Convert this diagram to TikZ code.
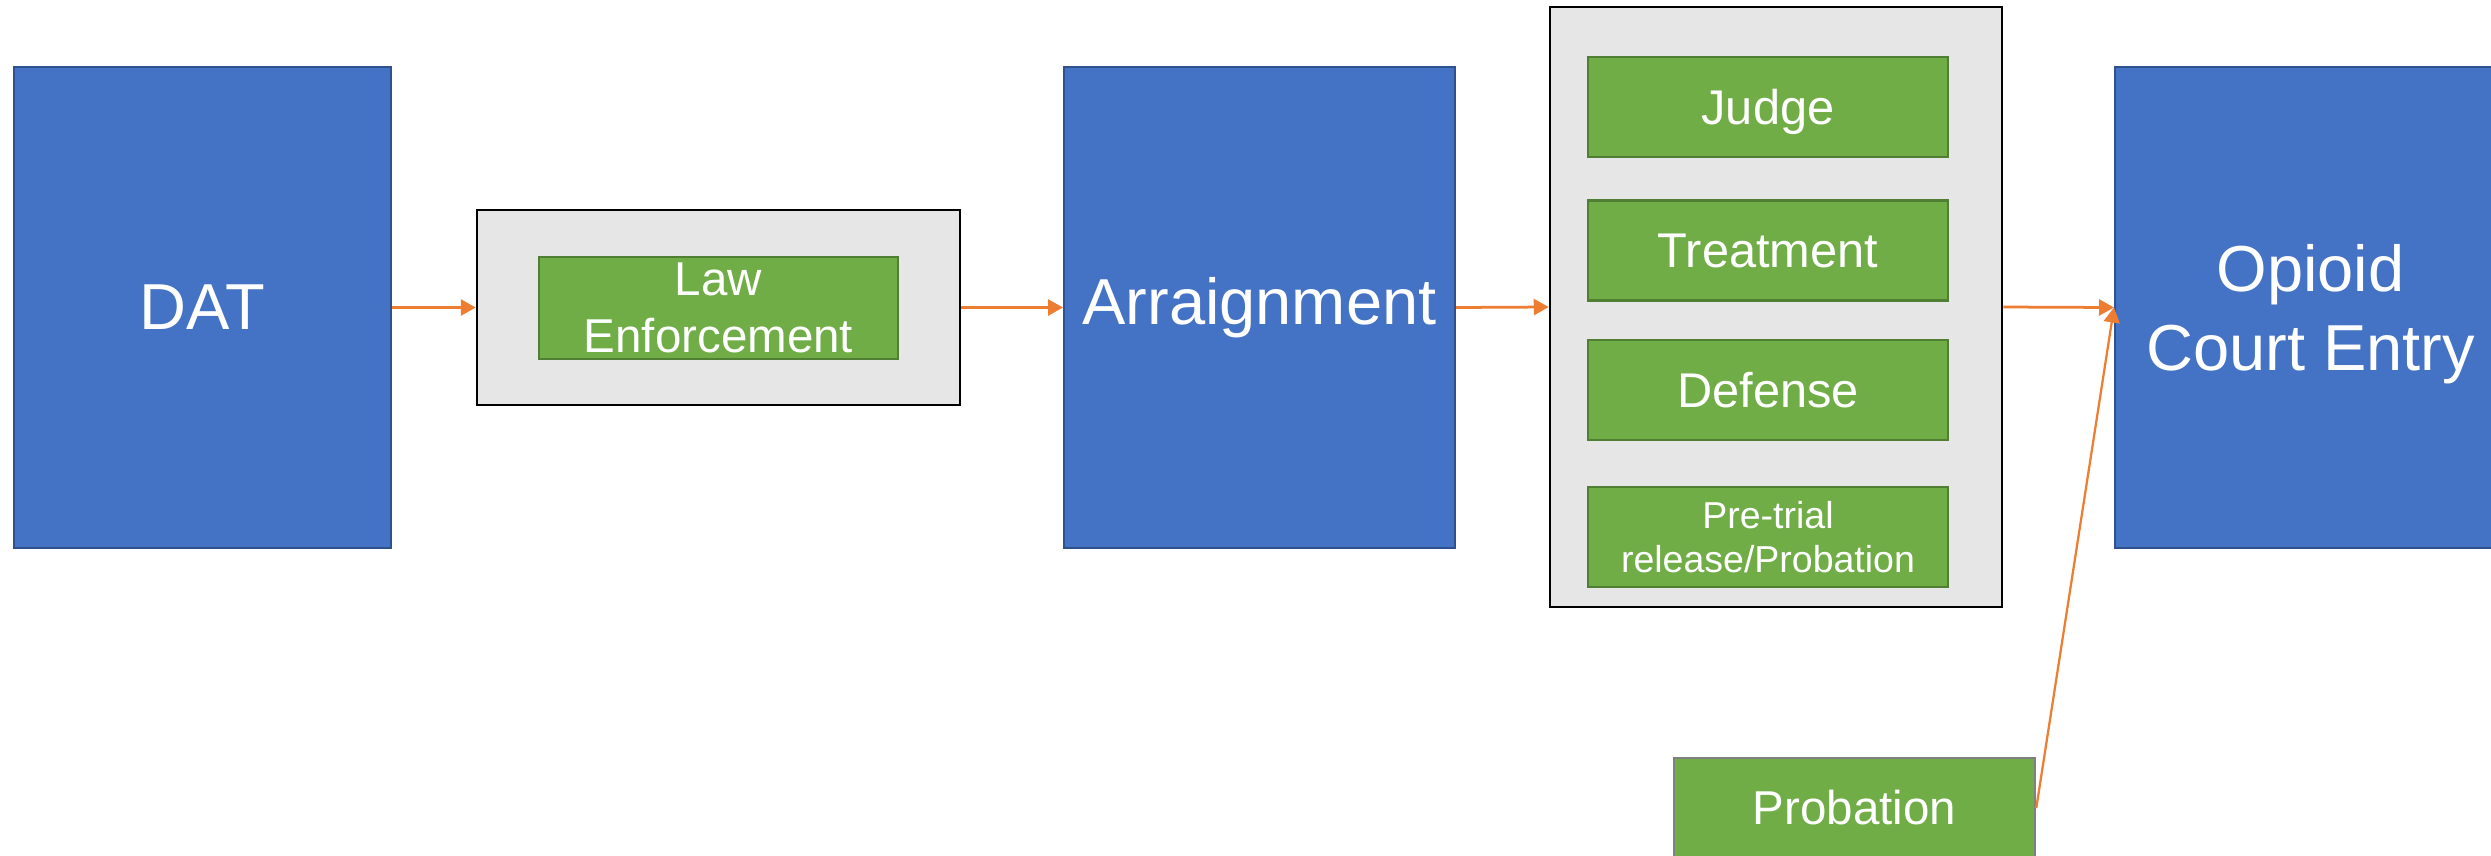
\documentclass[tikz,border=0pt]{standalone}
\usepackage{fontspec}
\setmainfont{Liberation Sans}
\usetikzlibrary{arrows.meta}
\definecolor{bluefill}{HTML}{4472C4}
\definecolor{blueline}{HTML}{2F528F}
\definecolor{greenfill}{HTML}{70AD47}
\definecolor{greenline}{HTML}{507E32}
\definecolor{grayfill}{HTML}{E6E6E6}
\definecolor{arrowc}{HTML}{ED7D31}
\definecolor{probline}{HTML}{808080}
\tikzset{
  bluebox/.style={draw=blueline, line width=0.8pt, fill=bluefill, text=white, inner sep=0pt,
    minimum height=192.4pt, align=center, font=\fontsize{26}{30}\selectfont},
  groupbox/.style={draw=black, line width=1pt, fill=grayfill, inner sep=0pt},
  greenbox/.style={draw=greenline, line width=1pt, fill=greenfill, text=white, inner sep=0pt,
    minimum width=144pt, minimum height=40pt, align=center, font=\fontsize{19.5}{23}\selectfont},
  arr/.style={draw=arrowc, line width=1.1pt, -{Triangle[length=6pt,width=6.4pt]}}
}
\begin{document}
\begin{tikzpicture}[x=0.4pt,y=-0.4pt]
\useasboundingbox (0,0) rectangle (2491,855);
\begin{scope}
\clip (0,0) rectangle (2491,855);
\node[bluebox, minimum width=150.8pt] (dat) at (202.5,307.5) {DAT};
\node[groupbox, minimum width=193.2pt, minimum height=78pt] (legrp) at (718.5,307.5) {};
\node[greenbox, minimum width=143.6pt, minimum height=40.8pt, font=\fontsize{19}{22.5}\selectfont] (le) at (718.5,308) {Law\\Enforcement};
\node[bluebox, minimum width=156.4pt] (arr) at (1259.5,307.5) {Arraignment};
\node[groupbox, minimum width=180.8pt, minimum height=240pt] (grp) at (1776,307) {};
\node[greenbox, text depth=0pt] (judge) at (1768,107) {Judge};
\node[greenbox] (treat) at (1768,250.5) {Treatment};
\node[greenbox] (def) at (1768,390) {Defense};
\node[greenbox, font=\fontsize{15}{17.4}\selectfont] (pre) at (1768,537) {Pre-trial\\release/Probation};
\node[bluebox, minimum width=156.4pt, font=\fontsize{26}{31.5}\selectfont, text depth=0pt] (oce) at (2310.5,307.5) {Opioid\\Court Entry};
\node[greenbox, draw=probline, minimum width=144.4pt, font=\fontsize{19}{22}\selectfont] (prob) at (1854.5,808) {Probation};
\draw[arr] (dat.east) -- (legrp.west);
\draw[arr] (legrp.east) -- (arr.west);
\draw[arr] (arr.east) -- (grp.west);
\draw[arr] (grp.east) -- (oce.west);
\draw[arr, line width=0.9pt] (prob.east) -- (oce.west);
\end{scope}
\end{tikzpicture}
\end{document}
